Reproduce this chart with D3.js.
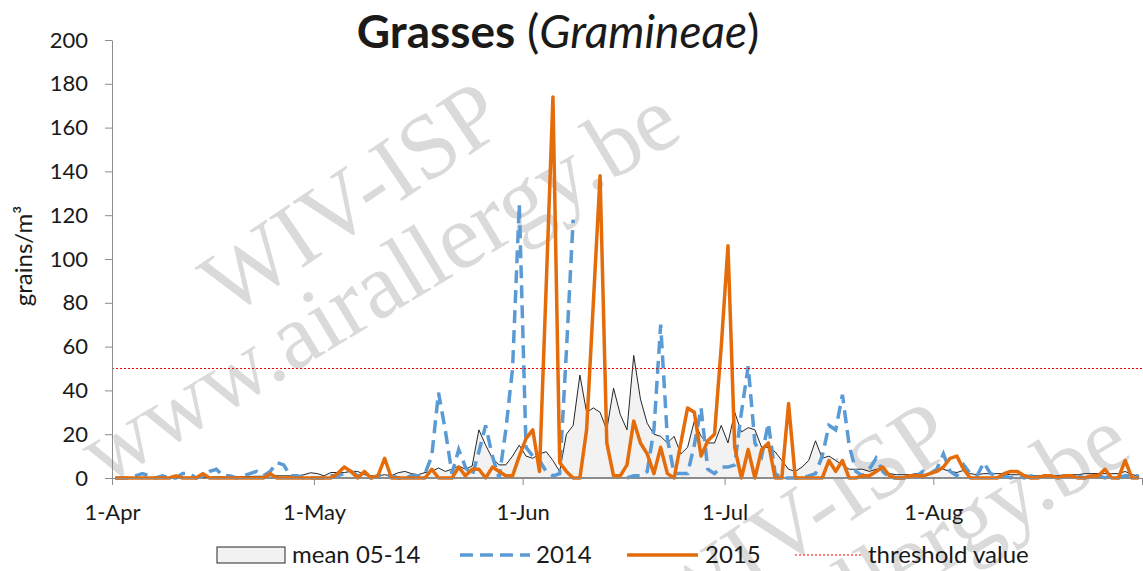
<!DOCTYPE html>
<html>
<head>
<meta charset="utf-8">
<script src="https://cdn.jsdelivr.net/npm/d3@7/dist/d3.min.js"></script>
<style>
  body { margin: 0; background: #fff; }
  svg { display: block; }
  text { font-family: Lato, "Open Sans", sans-serif; fill: #1a1a1a; }
  text.wm { font-family: "Liberation Serif", "DejaVu Serif", serif; fill: #dadada; }
</style>
</head>
<body>
<div id="chart"></div>
<script>
// daily values, first value = 1 April 2015 (153 days, up to 31 August)
const firstDay = '2015-04-01';

const mean0514 = [
  0, 0, 0, 0, 0, 0, 0, 0, 0.2, 0.2,
  0.3, 0.3, 0.3, 0.4, 0.4, 0.5, 0.5, 0.5, 0.5, 0.6,
  0.7, 0.8, 0.8, 1, 1, 1, 1, 1, 1.5, 2.4,
  2, 1, 2.5, 2.5, 2.5, 3, 3, 1.5, 1, 1,
  1.5, 1, 2.4, 3, 2, 1.5, 2.5, 3, 4.6, 3,
  4, 5.5, 4, 5.5, 22, 15, 9, 6, 6, 10,
  15, 10, 9, 11, 12, 8, 3, 20, 24, 47,
  30, 32, 30, 22, 41, 29, 22, 56, 36, 25,
  20, 19, 16, 19, 11, 14, 26, 19, 16, 16,
  24, 16, 30, 21, 23, 22, 14, 14, 12, 8,
  4, 3, 5, 8, 17, 9, 10, 8, 6, 4,
  4, 4, 3, 4, 4, 2, 1.5, 1.5, 1.5, 2,
  1.5, 2, 4, 4, 3, 2.5, 3.5, 2, 1.5, 2,
  2, 2, 2, 1.5, 1.5, 1.5, 1, 1, 1, 1,
  1, 1.5, 1.5, 1.5, 2, 2, 2, 2, 2, 2,
  3, 1.5, 1
];

// null = no measurement
const values2014 = [
  0, 0, 0, 1, 2, 1, 0, 1, 0, 0,
  2, 2, 0, 1, 3, 4, 1, 1, 0, 1,
  2, 3, 1, 3, 7, 6, 1, 1, 0, 0,
  0, 0, 1, 1, 2, 3, 1, 1, 0, 1,
  1, 1, 0, 0, 1, 1, 2, 10, 39, 22,
  2, 13, 5, 1, 12, 24, 10, 0, 22, 50,
  125, 14, 10, 8, 3, 1, 2, 58, 118, null,
  null, null, null, null, null, null, 0, 1, 1, 3,
  22, 70, 18, 2, 2, 2, 15, 32, 4, 2,
  5, 5, 6, 30, 51, 16, 10, 25, 2, 0,
  0, 0, 0, 1, 2, 10, 24, 22, 38, 15,
  3, 1, 4, 9, 3, 0, 0, 0, 0, 1,
  3, 2, 4, 11, 3, 1, 6, 2, 1, 7,
  2, 1, 1, 0, 1, 0, 1, 0, 1, 1,
  0, 1, 1, 1, 0, 1, 1, 0, 1, 0,
  1, 1, 1
];

const values2015 = [
  0, 0, 0, 0, 0, 0, 0, 0, 0, 1,
  0, 0, 0, 2, 0, 0, 0, 0, 0, 0,
  0, 0, 0, 2, 0, 0, 0, 0, 0, 0,
  0, 0, 0, 2, 5, 3, 0, 3, 0, 1,
  9, 0, 0, 0, 0, 0, 0, 4, 0, 0,
  0, 5, 1, 4, 4, 0, 5, 3, 1, 1,
  10, 18, 22, 3, 88, 174, 7, 3, 0, 0,
  22, 80, 138, 16, 1, 1, 6, 26, 16, 11,
  2, 14, 2, 0, 16, 32, 30, 10, 17, 20,
  60, 106, 14, 0, 13, 0, 13, 16, 0, 0,
  34, 0, 0, 0, 0, 0, 8, 3, 8, 0,
  0, 1, 1, 3, 5, 1, 0, 0, 1, 1,
  1, 2, 3, 5, 9, 10, 4, 0, 0, 0,
  0, 0, 2, 3, 3, 1, 0, 0, 1, 1,
  0, 1, 1, 0, 0, 1, 1, 4, 0, 0,
  8, 0, 0
];

const threshold = 50;
const yTicks = [0, 20, 40, 60, 80, 100, 120, 140, 160, 180, 200];
const monthTicks = ['2015-04-01', '2015-05-01', '2015-06-01', '2015-07-01', '2015-08-01', '2015-09-01'];
const monthLabels = ['1-Apr', '1-May', '1-Jun', '1-Jul', '1-Aug', ''];
const seriesNames = ['mean 05-14', '2014', '2015', 'threshold value'];

const W = 1143, H = 571;
const margin = { top: 40, right: 1, bottom: 93, left: 112 };

const svg = d3.select('#chart').append('svg')
  .attr('width', W)
  .attr('height', H);

// watermark (drawn first, lines go over it)
function watermark(dx, dy) {
  const g = svg.append('g');
  g.append('text').attr('class', 'wm')
    .attr('transform', `translate(${228 + dx},${318 + dy}) rotate(-34)`)
    .style('font-size', '92px')
    .text('WIV-ISP');
  g.append('text').attr('class', 'wm')
    .attr('transform', `translate(${104 + dx},${486 + dy}) rotate(-31)`)
    .style('font-size', '93px')
    .text('www.airallergy.be');
}
watermark(0, 0);
watermark(450, 320);

const parse = d3.utcParse('%Y-%m-%d');
const day0 = parse(firstDay);
const midDay = i => new Date(day0.getTime() + (i + 0.5) * 864e5);

const x = d3.scaleUtc()
  .domain([parse(monthTicks[0]), parse(monthTicks[monthTicks.length - 1])])
  .range([margin.left, W - margin.right]);

const y = d3.scaleLinear()
  .domain([0, 200])
  .range([H - margin.bottom, margin.top]);

// mean 05-14 as grey area
const area = d3.area()
  .x((d, i) => x(midDay(i)))
  .y0(y(0))
  .y1(d => y(d));

svg.append('path')
  .datum(mean0514)
  .attr('d', area)
  .attr('fill', '#f2f2f2')
  .attr('stroke', '#262626')
  .attr('stroke-width', 1);

const line = d3.line()
  .defined(d => d != null)
  .x((d, i) => x(midDay(i)))
  .y(d => y(d));

svg.append('path')
  .datum(values2014)
  .attr('d', line)
  .attr('fill', 'none')
  .attr('stroke', '#5b9bd5')
  .attr('stroke-width', 3.5)
  .attr('stroke-dasharray', '13,7');

svg.append('path')
  .datum(values2015)
  .attr('d', line)
  .attr('fill', 'none')
  .attr('stroke', '#e46c0a')
  .attr('stroke-width', 3.5)
  .attr('stroke-linejoin', 'round');

// threshold
svg.append('line')
  .attr('x1', x.range()[0])
  .attr('x2', x.range()[1])
  .attr('y1', y(threshold))
  .attr('y2', y(threshold))
  .attr('stroke', '#ff0000')
  .attr('stroke-width', 1)
  .attr('stroke-dasharray', '2,2');

// axes
const yAxis = svg.append('g')
  .attr('transform', `translate(${margin.left},0)`)
  .call(d3.axisLeft(y).tickValues(yTicks).tickSize(7).tickSizeOuter(0).tickPadding(17));

const xAxis = svg.append('g')
  .attr('transform', `translate(0,${H - margin.bottom})`)
  .call(d3.axisBottom(x)
    .tickValues(monthTicks.map(parse))
    .tickFormat((d, i) => monthLabels[i])
    .tickSize(7).tickSizeOuter(0).tickPadding(19));

[yAxis, xAxis].forEach(a => {
  a.select('.domain').attr('stroke', '#8c8c8c');
  a.selectAll('.tick line').attr('stroke', '#8c8c8c');
  a.selectAll('.tick text').style('font-size', '22px').style('fill', '#1a1a1a');
});

// y label
svg.append('text')
  .attr('transform', 'translate(32,256) rotate(-90)')
  .attr('text-anchor', 'middle')
  .style('font-size', '24px')
  .text('grains/m³');

// title
const title = svg.append('text')
  .attr('x', 558)
  .attr('y', 48)
  .attr('text-anchor', 'middle')
  .style('font-size', '46px');
title.append('tspan').style('font-weight', 'bold').text('Grasses');
title.append('tspan').text(' (');
title.append('tspan').style('font-style', 'italic').text('Gramineae');
title.append('tspan').text(')');

// legend
const ly = 555;
const legend = svg.append('g');
legend.append('rect')
  .attr('x', 217).attr('y', ly - 8).attr('width', 68).attr('height', 16)
  .attr('fill', '#f2f2f2').attr('stroke', '#262626').attr('stroke-width', 1);
legend.append('line')
  .attr('x1', 460).attr('x2', 530).attr('y1', ly).attr('y2', ly)
  .attr('stroke', '#5b9bd5').attr('stroke-width', 3.5).attr('stroke-dasharray', '13,7');
legend.append('line')
  .attr('x1', 627).attr('x2', 698).attr('y1', ly).attr('y2', ly)
  .attr('stroke', '#e46c0a').attr('stroke-width', 3.5);
legend.append('line')
  .attr('x1', 795).attr('x2', 861).attr('y1', ly).attr('y2', ly)
  .attr('stroke', '#ff0000').attr('stroke-width', 1).attr('stroke-dasharray', '2,2');

const legendX = [292, 536, 705, 868];
seriesNames.forEach((s, i) => {
  legend.append('text')
    .attr('x', legendX[i])
    .attr('y', ly)
    .attr('dy', '0.35em')
    .style('font-size', '24px')
    .text(s);
});
</script>
</body>
</html>
